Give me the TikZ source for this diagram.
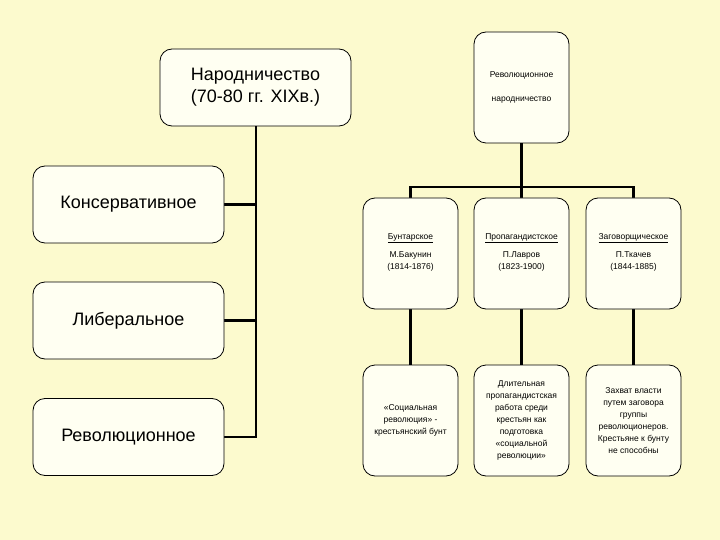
\documentclass[tikz,border=0pt]{standalone}
\usepackage{fontspec}
\setmainfont{Liberation Sans}
\definecolor{bg}{RGB}{252,250,206}
\definecolor{boxfill}{RGB}{255,255,242}
\begin{document}
\begin{tikzpicture}[x=1pt,y=-1pt,
  bx/.style={draw=black,fill=boxfill,rounded corners=12pt,line width=0.8pt,inner sep=0pt},
  big/.style={font=\fontsize{18}{22}\selectfont},
  sm/.style={font=\fontsize{8.5}{12}\selectfont,align=center},
  ln/.style={line width=2.2pt}]
\fill[bg] (0,0) rectangle (720,540);
\useasboundingbox (0,0) rectangle (720,540);
\coordinate (trunk) at (256,437);
\coordinate (bar) at (521.5,187);
\draw[ln] (256,120) -- (trunk) -- (200,437);
\draw[ln] (200,204.5) -- (256,204.5);
\draw[ln] (200,320.5) -- (256,320.5);
\draw[ln] (521.5,140) -- (521.5,200);
\draw[ln] (410.5,200) |- (bar) -| (633.5,200);
\draw[ln] (410.5,300) -- (410.5,370);
\draw[ln] (521.5,300) -- (521.5,370);
\draw[ln] (633.5,300) -- (633.5,370);
% left boxes
\node[bx,minimum width=191pt,minimum height=77pt] (nar) at (255.5,87.5) {};
\node[big,align=center] at (nar) {Народничество\\(70-80 гг. XIXв.)};
\node[bx,minimum width=191pt,minimum height=77pt] (kon) at (128.5,204.5) {};
\node[big] at (kon) {Консервативное};
\node[bx,minimum width=191pt,minimum height=77pt] (lib) at (128.5,320.5) {};
\node[big] at (lib) {Либеральное};
\node[bx,minimum width=191pt,minimum height=77pt] (rev) at (128.5,437) {};
\node[big] at (rev) {Революционное};
% right
\node[bx,minimum width=95pt,minimum height=111pt] (rn) at (521.5,87.5) {};
\node[sm,font=\fontsize{8.5}{24}\selectfont] at (rn) {Революционное\\народничество};
\node[bx,minimum width=95pt,minimum height=111pt] (b1) at (410.5,253.5) {};
\node[bx,minimum width=95pt,minimum height=111pt] (b2) at (521.5,253.5) {};
\node[bx,minimum width=95pt,minimum height=111pt] (b3) at (633.5,253.5) {};
\node[sm] at (410.5,252) {\underline{Бунтарское}\\[6pt]М.Бакунин\\(1814-1876)};
\node[sm] at (521.5,252) {\underline{Пропагандистское}\\[6pt]П.Лавров\\(1823-1900)};
\node[sm] at (633.5,252) {\underline{Заговорщическое}\\[6pt]П.Ткачев\\(1844-1885)};
\node[bx,minimum width=95pt,minimum height=111pt] (c1) at (410.5,420.5) {};
\node[bx,minimum width=95pt,minimum height=111pt] (c2) at (521.5,420.5) {};
\node[bx,minimum width=95pt,minimum height=111pt] (c3) at (633.5,420.5) {};
\node[sm] at (c1) {«Социальная\\революция» -\\крестьянский бунт};
\node[sm] at (c2) {Длительная\\пропагандистская\\работа среди\\крестьян как\\подготовка\\«социальной\\революции»};
\node[sm] at (c3) {Захват власти\\путем заговора\\группы\\революционеров.\\Крестьяне к бунту\\не способны};
\end{tikzpicture}
\end{document}
